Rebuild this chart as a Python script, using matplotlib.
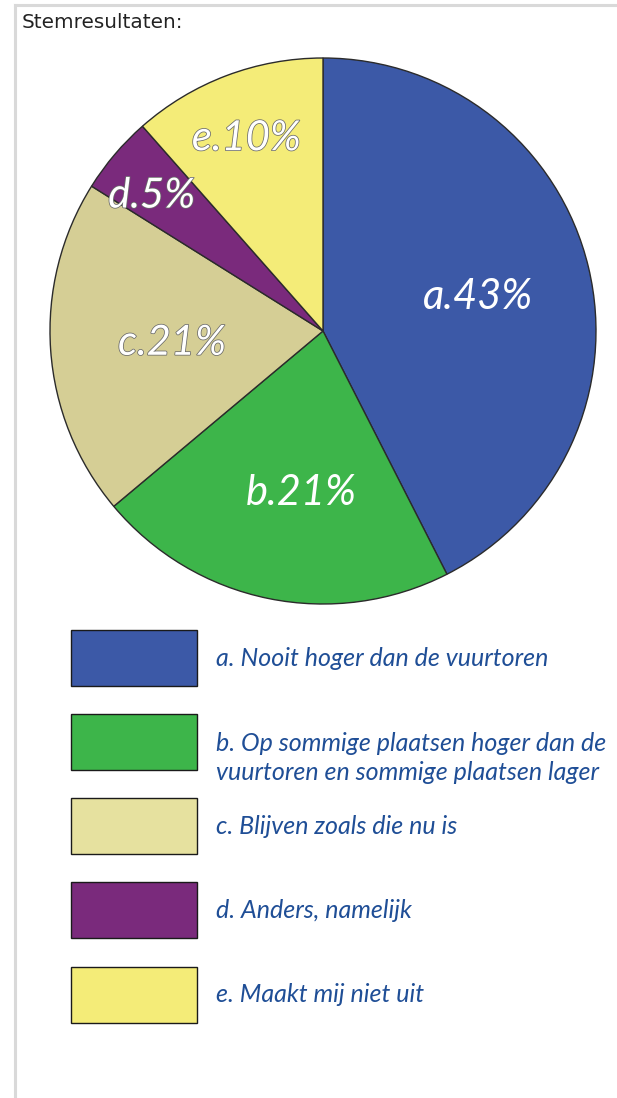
import numpy as np
import matplotlib.pyplot as plt
import matplotlib.patheffects as pe
from matplotlib.patches import Rectangle
from matplotlib.lines import Line2D

# Data
letters = ["a", "b", "c", "d", "e"]
pct_labels = [43, 21, 21, 5, 10]
# slice sizes as drawn in the picture (the drawing is not exactly to the labels)
slice_sizes = [42.5, 21.4, 20.0, 4.6, 11.5]
answers = [
    "a. Nooit hoger dan de vuurtoren",
    "b. Op sommige plaatsen hoger dan de\nvuurtoren en sommige plaatsen lager",
    "c. Blijven zoals die nu is",
    "d. Anders, namelijk",
    "e. Maakt mij niet uit",
]

pie_colors = ["#3C59A7", "#3DB54A", "#D5CE95", "#7A2A7C", "#F4EC78"]
box_colors = ["#3C59A7", "#3DB54A", "#E6E19F", "#7A2A7C", "#F4EC78"]
# label placement (radius fraction, angle offset in degrees)
lab_r = [0.58, 0.60, 0.555, 0.80, 0.76]
lab_da = [-1, 4, 0.5, 2, 1]
outlined = [False, False, True, True, True]

W, H = 617, 1098
fig = plt.figure(figsize=(W / 100, H / 100), dpi=100)

def fx(px):
    return px / W

def fy(py):
    return 1 - py / H

# Frame lines
fig.add_artist(Line2D([fx(15), 1], [fy(5), fy(5)], color="#D9D9D9", lw=2.2))
fig.add_artist(Line2D([fx(15), fx(15)], [fy(5), 0], color="#D9D9D9", lw=2.2))
fig.text(fx(22), fy(22), "Stemresultaten:", fontsize=14.4, color="#222222",
         family="DejaVu Sans", va="center", ha="left")

# Pie
cx, cy, r = 323, 331, 273
ax = fig.add_axes([fx(cx - r), fy(cy + r), 2 * r / W, 2 * r / H])
wedges, _ = ax.pie(slice_sizes, colors=pie_colors, startangle=90, counterclock=False,
                   radius=1, wedgeprops=dict(edgecolor="#2B2B2B", linewidth=1.0))
ax.set_xlim(-1, 1)
ax.set_ylim(-1, 1)
ax.set_aspect("auto")
ax.axis("off")

for w, let, s, rr, da, ol in zip(wedges, letters, pct_labels, lab_r, lab_da, outlined):
    mid = np.deg2rad((w.theta1 + w.theta2) / 2 + da)
    effects = [pe.Stroke(linewidth=1.1, foreground="#6A6A6A"), pe.Normal()] if ol else None
    ax.text(rr * np.cos(mid), rr * np.sin(mid), f"{let}.{s}%", color="white",
            fontsize=30, family="Lato", style="italic", weight="normal",
            ha="center", va="center", path_effects=effects)

# Legend
box_top = [630, 714, 798, 882, 967]
for top, col, txt in zip(box_top, box_colors, answers):
    fig.add_artist(Rectangle((fx(71), fy(top + 56)), 126 / W, 56 / H,
                             facecolor=col, edgecolor="#1A1A1A", lw=1.0))
    ty = top + 28 if "\n" not in txt else top + 44
    fig.text(fx(216), fy(ty), txt, fontsize=18, color="#1F4E96",
             family="Lato", style="italic", va="center", ha="left",
             linespacing=1.35)

fig.savefig("out.png", dpi=100)
